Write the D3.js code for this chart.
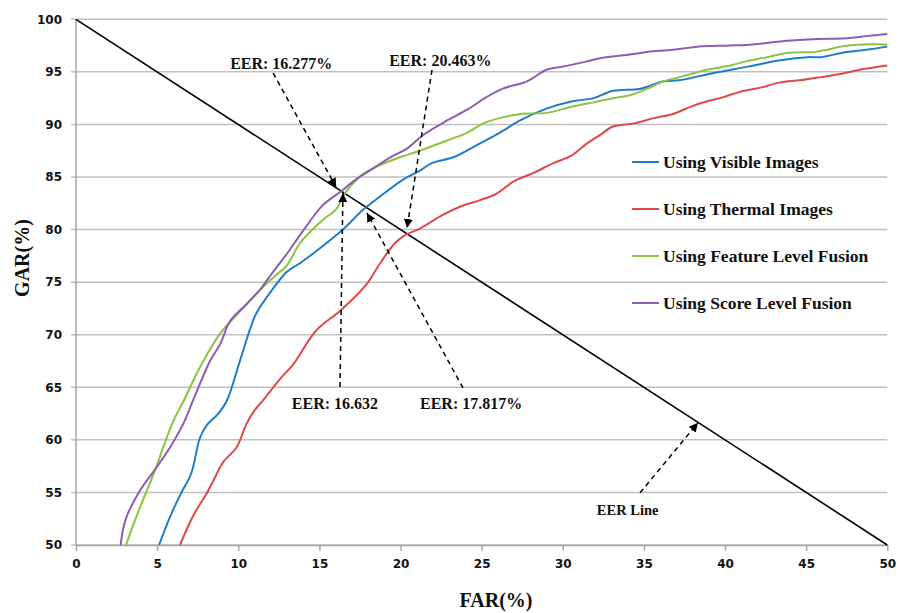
<!DOCTYPE html>
<html><head><meta charset="utf-8">
<script src="https://cdn.jsdelivr.net/npm/d3@7"></script>
<style>body{margin:0;background:#fff;} svg{display:block;}</style>
</head><body>
<svg id="chart" width="898" height="613"></svg>
<script>
// ---- data ----
const xTicks = [0,5,10,15,20,25,30,35,40,45,50];
const yTicks = [50,55,60,65,70,75,80,85,90,95,100];
const seriesNames = ["Using Visible Images","Using Thermal Images","Using Feature Level Fusion","Using Score Level Fusion"];
const seriesColors = ["#1f7cc6","#e04848","#8cc340","#8e5cb2"];

const visible = [[5.12,50],[5.8,52.7],[6.5,55.0],[7.1,56.8],[7.64,60.2],[8.06,61.4],[8.77,62.5],[9.29,63.7],[10.1,67.5],[10.7,70.4],[11.1,72.0],[12.2,74.5],[13.0,76.0],[13.8,76.8],[14.6,77.7],[16.45,80.0],[17.7,81.9],[18.7,83.1],[20.2,84.8],[21.2,85.6],[21.9,86.3],[23.3,86.9],[24.9,88.2],[26.1,89.2],[27.4,90.4],[29.0,91.5],[30.6,92.2],[31.9,92.5],[33.1,93.2],[34.8,93.4],[36.2,94.1],[37.2,94.2],[39.3,94.9],[41.4,95.5],[43.4,96.1],[45.1,96.4],[45.9,96.4],[47.5,96.9],[48.7,97.1],[50,97.4]];
const thermal = [[6.41,50],[7.23,52.8],[8.05,54.9],[8.46,56.1],[9.08,57.9],[9.9,59.3],[10.5,61.5],[11.0,62.8],[11.5,63.7],[12.58,65.8],[13.4,67.2],[14.8,70.4],[16.3,72.3],[17.9,74.8],[18.7,76.7],[19.6,78.6],[20.2,79.4],[21.2,80.1],[22.6,81.4],[23.7,82.2],[24.9,82.8],[25.9,83.4],[27.0,84.6],[28.2,85.4],[29.4,86.3],[30.5,87.0],[31.5,88.2],[32.3,89.0],[33.1,89.8],[34.4,90.1],[35.6,90.6],[36.8,91.0],[37.9,91.7],[38.9,92.2],[39.9,92.6],[40.9,93.1],[42.2,93.5],[43.4,94.0],[44.6,94.2],[45.9,94.5],[47.1,94.8],[48.3,95.2],[50,95.6]];
const featureFusion = [[3.08,50],[3.5,51.8],[3.95,53.6],[4.87,57.1],[5.38,59.3],[6.0,61.8],[6.6,63.6],[7.64,66.9],[8.88,70.1],[10.1,72.2],[11.3,74.2],[12.2,75.5],[13.0,76.6],[13.8,78.7],[15.2,80.9],[16.07,82.0],[16.5,83.3],[16.9,84.1],[17.7,85.3],[18.7,86.1],[20.0,86.9],[21.2,87.5],[22.9,88.5],[24.1,89.2],[25.1,90.1],[26.1,90.6],[27.4,91.0],[29.0,91.1],[30.6,91.7],[31.9,92.1],[33.1,92.5],[34.2,92.8],[35.2,93.4],[36.2,94.1],[37.2,94.5],[38.9,95.2],[40.3,95.6],[41.3,96.0],[42.6,96.4],[43.8,96.8],[45.5,96.9],[46.3,97.1],[47.1,97.4],[48.5,97.6],[50,97.6]];
const scoreFusion = [[2.75,50],[2.9,51.5],[3.12,52.7],[3.95,55.2],[4.97,57.4],[5.8,59.3],[6.6,61.5],[7.2,63.7],[8.26,67.5],[8.88,69.1],[9.5,71.3],[10.5,72.9],[11.3,74.2],[12.2,76.1],[13.0,77.7],[14.0,79.9],[15.2,82.3],[16.3,83.6],[17.2,84.7],[18.3,85.8],[19.4,86.9],[20.4,87.7],[21.4,89.0],[22.9,90.4],[24.1,91.4],[25.3,92.6],[26.3,93.4],[27.8,94.1],[29.0,95.2],[30.0,95.5],[31.5,96.0],[32.3,96.3],[33.9,96.6],[35.2,96.9],[36.8,97.1],[38.3,97.4],[40.3,97.5],[41.7,97.6],[43.4,97.9],[45.4,98.1],[47.5,98.2],[48.7,98.4],[50,98.6]];
const eerLine = [[0,100],[50,50]];

// annotations: label, label anchor (data), arrow start, arrow end (data)
const annLabels = ["EER: 16.277%","EER: 20.463%","EER: 16.632","EER: 17.817%","EER Line"];
const annLabelPos = [[9.5,95.3],[19.3,95.6],[13.3,62.9],[21.2,62.9],[32.1,52.9]];
const annFrom = [[12.15,94.89],[21.94,95.18],[16.27,65.03],[23.85,64.94],[34.76,54.96]];
const annTo = [[16.03,84.03],[20.40,80.15],[16.45,83.48],[17.93,81.58],[38.33,61.62]];

// ---- layout ----
const svg = d3.select("#chart");
const x = d3.scaleLinear().domain([0,50]).range([76,887.3]);
const y = d3.scaleLinear().domain([50,100]).range([545,19.3]);

const defs = svg.append("defs");
defs.append("marker").attr("id","ah").attr("viewBox","0 0 10 10")
  .attr("refX",10).attr("refY",5).attr("markerWidth",9).attr("markerHeight",9)
  .attr("markerUnits","userSpaceOnUse").attr("orient","auto")
  .append("path").attr("d","M0,0L10,5L0,10Z").attr("fill","#000");

// gridlines
svg.append("g").selectAll("line").data(yTicks).join("line")
  .attr("x1",71).attr("x2",x(50)).attr("y1",d=>y(d)).attr("y2",d=>y(d))
  .attr("stroke","#c0c0c0").attr("stroke-width",1.5);

// y axis line
svg.append("line").attr("x1",x(0)).attr("x2",x(0)).attr("y1",y(100)).attr("y2",y(50))
  .attr("stroke","#a6a6a6").attr("stroke-width",1.5);

// x axis
const xAxis = d3.axisBottom(x).tickValues(xTicks).tickSize(6).tickPadding(8).tickSizeOuter(0);
const gx = svg.append("g").attr("transform",`translate(0,${y(50)})`).call(xAxis);
gx.select(".domain").attr("stroke","#a6a6a6").attr("stroke-width",1.5);
gx.selectAll(".tick line").attr("stroke","#a6a6a6").attr("stroke-width",1.5);
gx.selectAll(".tick text").attr("font-family","DejaVu Sans").attr("font-weight","bold")
  .attr("font-size",12).attr("fill","#111");

// y axis labels
const yAxis = d3.axisLeft(y).tickValues(yTicks).tickSize(0).tickPadding(14);
const gy = svg.append("g").attr("transform",`translate(${x(0)},0)`).call(yAxis);
gy.select(".domain").remove();
gy.selectAll(".tick text").attr("font-family","DejaVu Sans").attr("font-weight","bold")
  .attr("font-size",12).attr("fill","#111");

// EER line
const lineGen = d3.line().x(d=>x(d[0])).y(d=>y(d[1]));
svg.append("path").datum(eerLine).attr("d",lineGen).attr("fill","none")
  .attr("stroke","#000").attr("stroke-width",1.6);

// series
const curveGen = d3.line().x(d=>x(d[0])).y(d=>y(d[1])).curve(d3.curveCatmullRom.alpha(0.5));
const allSeries = [visible, thermal, featureFusion, scoreFusion];
const drawOrder = [1,0,2,3];
drawOrder.forEach(i=>{
  svg.append("path").datum(allSeries[i]).attr("d",curveGen).attr("fill","none")
    .attr("stroke",seriesColors[i]).attr("stroke-width",2);
});

// annotation arrows
annFrom.forEach((f,i)=>{
  svg.append("line").attr("x1",x(f[0])).attr("y1",y(f[1]))
    .attr("x2",x(annTo[i][0])).attr("y2",y(annTo[i][1]))
    .attr("stroke","#000").attr("stroke-width",1.5).attr("stroke-dasharray","5,4")
    .attr("marker-end","url(#ah)");
});
annLabels.forEach((t,i)=>{
  svg.append("text").attr("x",x(annLabelPos[i][0])).attr("y",y(annLabelPos[i][1]))
    .attr("font-family","Liberation Serif").attr("font-weight","bold")
    .attr("font-size", i===4 ? 14.5 : 16).attr("fill","#111").text(t);
});

// legend
const lg = svg.append("g").attr("transform","translate(632,162)");
seriesNames.forEach((n,i)=>{
  const g = lg.append("g").attr("transform",`translate(0,${i*47})`);
  g.append("line").attr("x1",0).attr("x2",27).attr("y1",0).attr("y2",0)
    .attr("stroke",seriesColors[i]).attr("stroke-width",2);
  g.append("text").attr("x",31).attr("y",5.5).attr("font-family","Liberation Serif")
    .attr("font-weight","bold").attr("font-size",17.5).attr("fill","#111").text(n);
});

// axis titles
svg.append("text").attr("transform","translate(29,258) rotate(-90)").attr("text-anchor","middle")
  .attr("font-family","Liberation Serif").attr("font-weight","bold").attr("font-size",20)
  .attr("fill","#111").text("GAR(%)");
svg.append("text").attr("x",496).attr("y",607).attr("text-anchor","middle")
  .attr("font-family","Liberation Serif").attr("font-weight","bold").attr("font-size",20)
  .attr("fill","#111").text("FAR(%)");
</script>
</body></html>
